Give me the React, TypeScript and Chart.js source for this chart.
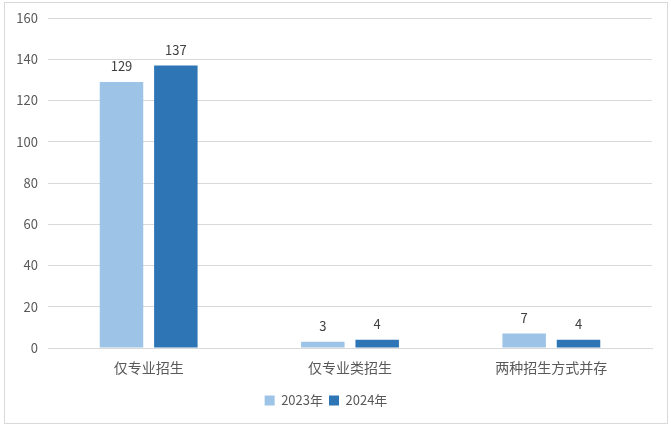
import React, { useEffect, useRef } from "react";
import { Chart, registerables } from "chart.js";

Chart.register(...registerables);

const categories = ["仅专业招生", "仅专业类招生", "两种招生方式并存"];
const series2023 = [129, 3, 7];
const series2024 = [137, 4, 4];
const seriesNames = ["2023年", "2024年"];

const FONT = '"Noto Sans CJK SC", "Noto Sans", sans-serif';

const labelPlugin = {
  id: "barLabels",
  afterDatasetsDraw(chart: any) {
    const ctx = chart.ctx;
    ctx.save();
    ctx.font = `13px ${FONT}`;
    ctx.fillStyle = "#404040";
    ctx.textAlign = "center";
    ctx.textBaseline = "bottom";
    chart.data.datasets.forEach((ds: any, i: number) => {
      const meta = chart.getDatasetMeta(i);
      meta.data.forEach((bar: any, j: number) => {
        ctx.fillText(String(ds.data[j]), bar.x, bar.y - 9);
      });
    });
    ctx.restore();
  },
};

export default function App() {
  const ref = useRef<HTMLCanvasElement | null>(null);
  useEffect(() => {
    document.body.style.margin = "0";
    const chart = new Chart(ref.current!, {
      type: "bar",
      data: {
        labels: categories,
        datasets: [
          { label: seriesNames[0], data: series2023, backgroundColor: "#9DC3E6", categoryPercentage: 0.54, barPercentage: 0.8 },
          { label: seriesNames[1], data: series2024, backgroundColor: "#2E75B6", categoryPercentage: 0.54, barPercentage: 0.8 },
        ],
      },
      options: {
        animation: false,
        responsive: false,
        maintainAspectRatio: false,
        layout: { padding: { left: 0, right: 19, top: 18, bottom: 10 } },
        plugins: {
          legend: {
            position: "bottom",
            labels: {
              boxWidth: 10,
              boxHeight: 10,
              padding: 6,
              color: "#595959",
              font: { family: FONT, size: 13 },
            },
          },
          tooltip: { enabled: false },
        },
        scales: {
          x: {
            grid: { display: false },
            border: { color: "#d9d9d9" },
            ticks: { color: "#595959", font: { family: FONT, size: 14 }, padding: 3 },
            afterFit: (s: any) => { s.height = 40; },
          },
          y: {
            min: 0,
            max: 160,
            ticks: { stepSize: 20, color: "#595959", font: { family: FONT, size: 13 }, padding: 10 },
            grid: { color: "#d9d9d9", drawTicks: false },
            border: { display: false },
            afterFit: (s: any) => { s.width = 48; },
          },
        },
      },
      plugins: [labelPlugin],
    });
    return () => chart.destroy();
  }, []);
  return (
    <div style={{ position: "relative", width: 671, height: 427 }}>
      <div style={{ position: "absolute", left: 4, top: 2, width: 662, height: 420, border: "1px solid #d9d9d9" }} />
      <canvas ref={ref} width={671} height={427} style={{ position: "absolute", left: 0, top: 0 }} />
    </div>
  );
}
